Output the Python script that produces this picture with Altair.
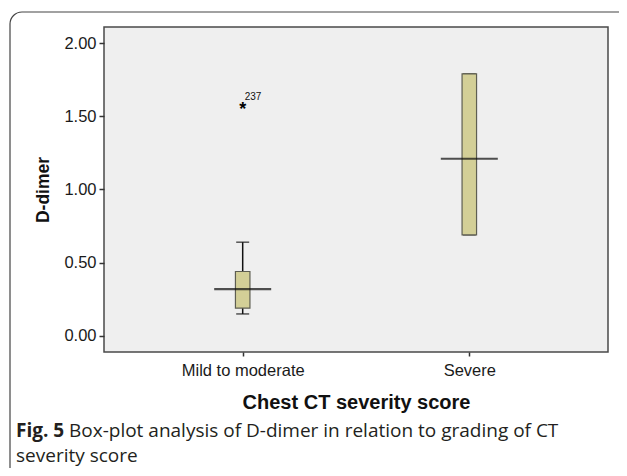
import altair as alt
import pandas as pd

# ---- data ----
categories = ["Mild to moderate", "Severe"]
whisker_low = [0.15, 0.69]
q1 = [0.19, 0.69]
median = [0.32, 1.21]
q3 = [0.44, 1.79]
whisker_high = [0.64, 1.79]

outlier_cat = ["Mild to moderate"]
outlier_val = [1.57]
outlier_lab = ["237"]

y_ticks = [0.0, 0.5, 1.0, 1.5, 2.0]

box_df = pd.DataFrame({
    "cat": categories, "wlo": whisker_low, "q1": q1,
    "med": median, "q3": q3, "whi": whisker_high,
})
out_df = pd.DataFrame({"cat": outlier_cat, "val": outlier_val, "lab": outlier_lab})
one = pd.DataFrame({"a": [0]})

AX_FONT = "Liberation Sans"
CAP_FONT = "Open Sans"

xenc = alt.X("cat:N", sort=categories,
             scale=alt.Scale(type="point", padding=0.612),
             axis=alt.Axis(title="Chest CT severity score", labelAngle=0,
                           labelFont=AX_FONT, labelFontSize=16.5, labelColor="#1a1a1a",
                           labelPadding=6, tickSize=4, tickColor="#333", tickWidth=1.5,
                           domain=False, grid=False,
                           titleFont=AX_FONT, titleFontSize=20, titleFontWeight="bold",
                           titleColor="#111", titleY=56, titleBaseline="alphabetic"))
yscale = alt.Scale(domain=[-0.11, 2.11], nice=False, zero=False)
yaxis = alt.Axis(title="D-dimer", values=y_ticks, format=".2f",
                 labelFont=AX_FONT, labelFontSize=16.5, labelColor="#1a1a1a",
                 labelPadding=3, tickSize=5, tickColor="#333", tickWidth=1.5,
                 domain=False, grid=False,
                 titleFont=AX_FONT, titleFontSize=17.5, titleFontWeight="bold",
                 titleColor="#111", titleX=-61, titleY=162.5, titleBaseline="middle",
                 titleAlign="center", titleAngle=270)

xs = alt.X("cat:N", sort=categories)
base = alt.Chart(box_df)

whisk = base.mark_rule(color="#111", strokeWidth=1.5).encode(
    x=xenc, y=alt.Y("wlo:Q", scale=yscale, axis=yaxis), y2="whi:Q")
cap_lo = base.mark_tick(color="#111", size=13, thickness=1.5, orient="horizontal").encode(
    x=xs, y="wlo:Q")
cap_hi = base.mark_tick(color="#111", size=13, thickness=1.5, orient="horizontal").encode(
    x=xs, y="whi:Q")
box = base.mark_bar(size=14.5, fill="#d3cf97", stroke="#5e5e52", strokeWidth=1.2).encode(
    x=xs, y="q1:Q", y2="q3:Q")
med = base.mark_tick(color="#0a0a0a", size=57, thickness=2.2, orient="horizontal").encode(
    x=xs, y="med:Q")

out_pt = alt.Chart(out_df).mark_text(text="*", font=AX_FONT, fontSize=18, fontWeight="bold",
                                     baseline="middle", dy=4, color="#000").encode(
    x=xs, y="val:Q")
out_tx = alt.Chart(out_df).mark_text(font=AX_FONT, fontSize=10, align="left",
                                     baseline="alphabetic", dx=2, dy=-6, color="#111").encode(
    x=xs, y="val:Q", text="lab:N")

# decorative frame and caption (outside the plot area)
frame = alt.Chart(one).mark_rect(filled=False, stroke="#444", strokeWidth=1.2,
                                 cornerRadius=12).encode(
    x=alt.value(-94), x2=alt.value(560), y=alt.value(-15), y2=alt.value(470))
cap1 = alt.Chart(one).mark_text(text="Fig. 5", font=CAP_FONT, fontSize=19,
                                fontWeight="bold", align="left", baseline="alphabetic",
                                color="#231f20").encode(x=alt.value(-88), y=alt.value(410))
cap2 = alt.Chart(one).mark_text(
    text="Box-plot analysis of D-dimer in relation to grading of CT",
    font=CAP_FONT, fontSize=19, align="left", baseline="alphabetic",
    color="#231f20").encode(x=alt.value(-35), y=alt.value(410))
cap3 = alt.Chart(one).mark_text(text="severity score", font=CAP_FONT, fontSize=19,
                                align="left", baseline="alphabetic",
                                color="#231f20").encode(x=alt.value(-88), y=alt.value(435))

chart = alt.layer(frame, whisk, cap_lo, cap_hi, box, med, out_pt, out_tx,
                  cap1, cap2, cap3).properties(
    width=504, height=325,
    autosize=alt.AutoSizeParams(type="none"),
    padding={"left": 96, "top": 19, "right": 11, "bottom": 116},
    background="white",
).configure_view(fill="#efefef", stroke="#4a4a4a", strokeWidth=1.5)

chart.save("out.html", embed_options={"renderer": "svg", "actions": False})
